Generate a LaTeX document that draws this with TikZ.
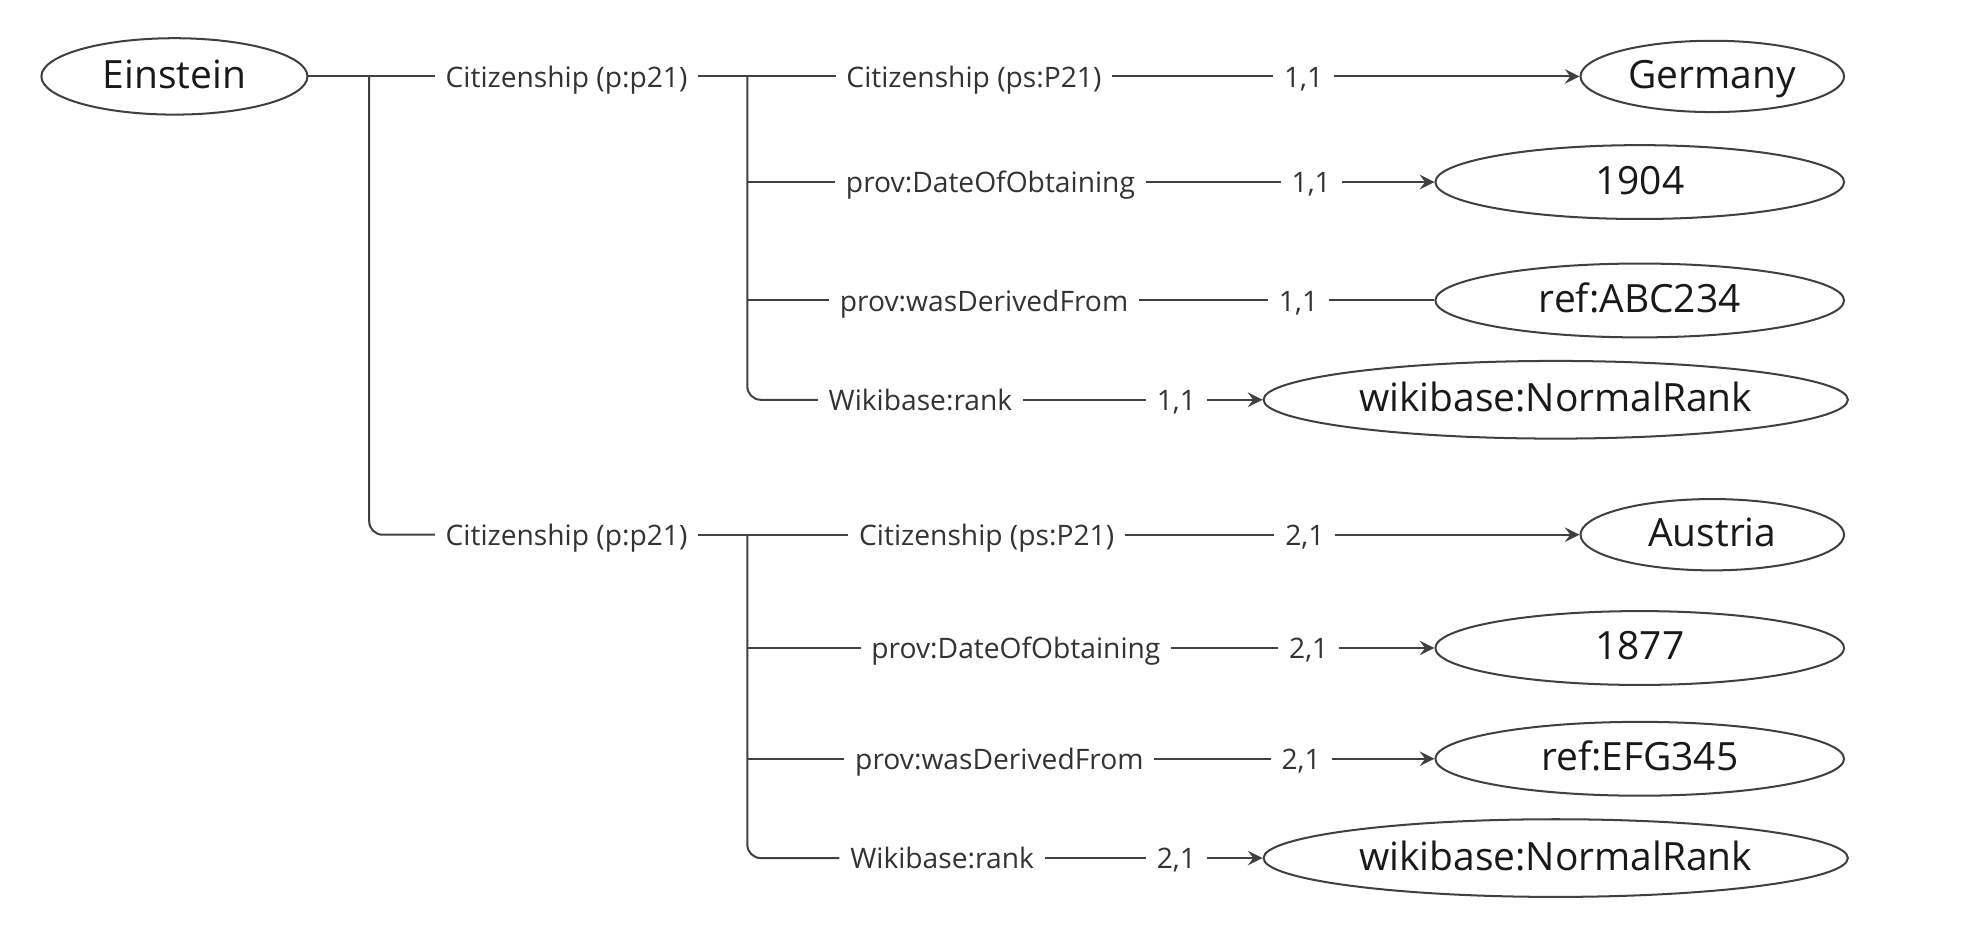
\documentclass[tikz,border=0pt]{standalone}
\usepackage{fontspec}
\setmainfont{Open Sans}
\usetikzlibrary{arrows,positioning,shapes.geometric}

\begin{document}
\begin{tikzpicture}[x=0.1mm,y=-0.1mm,line width=0.45pt,draw=black!75,
  lbl/.style={inner sep=2.2pt,text=black!80,font=\fontsize{6.3}{7}\selectfont,text height=1.25ex,text depth=.35ex},
  val/.style={draw=black!75,ellipse,inner sep=0pt,text=black!90,font=\fontsize{8.7}{10}\selectfont,text height=1.3ex,text depth=.3ex},
  to/.style={-stealth,shorten >=0pt}]
\useasboundingbox (0,0) rectangle (1560,743);
% root and the two statements
\node[val,minimum width=20.9mm,minimum height=6mm] (ein) at (137,60) {Einstein};
\node[lbl] (cpa) at (445,60) {Citizenship (p:p21)};
\node[lbl] (cpb) at (445,420) {Citizenship (p:p21)};
\coordinate (j0) at (290,60);
\coordinate (ja) at (587,60);
\coordinate (jb) at (587,420);
% first statement
\node[lbl] (psa) at (765,60) {Citizenship (ps:P21)};
\node[lbl] (doa) at (778,143) {prov:DateOfObtaining};
\node[lbl] (dfa) at (773,236) {prov:wasDerivedFrom};
\node[lbl] (wra) at (723,314) {Wikibase:rank};
\node[lbl] (na1) at (1024,60) {1,1};
\node[lbl] (na2) at (1030,143) {1,1};
\node[lbl] (na3) at (1020,236) {1,1};
\node[lbl] (na4) at (924,314) {1,1};
\node[val,minimum width=20.7mm,minimum height=5.6mm] (ger) at (1345,60) {Germany};
\node[val,minimum width=32.1mm,minimum height=5.8mm] (y04) at (1288,143) {1904};
\node[val,minimum width=32.1mm,minimum height=5.8mm] (abc) at (1288,236) {ref:ABC234};
\node[val,minimum width=45.9mm,minimum height=6.1mm] (nra) at (1222,314) {wikibase:NormalRank};
% second statement
\node[lbl] (psb) at (775,420) {Citizenship (ps:P21)};
\node[lbl] (dob) at (798,509) {prov:DateOfObtaining};
\node[lbl] (dfb) at (785,596) {prov:wasDerivedFrom};
\node[lbl] (wrb) at (740,674) {Wikibase:rank};
\node[lbl] (nb1) at (1025,420) {2,1};
\node[lbl] (nb2) at (1028,509) {2,1};
\node[lbl] (nb3) at (1022,596) {2,1};
\node[lbl] (nb4) at (924,674) {2,1};
\node[val,minimum width=20.7mm,minimum height=5.6mm] (aut) at (1345,420) {Austria};
\node[val,minimum width=32.1mm,minimum height=5.8mm] (y77) at (1288,509) {1877};
\node[val,minimum width=32.1mm,minimum height=5.8mm] (efg) at (1288,596) {ref:EFG345};
\node[val,minimum width=45.9mm,minimum height=6.1mm] (nrb) at (1222,674) {wikibase:NormalRank};
% tree lines
\draw (ein) -- (cpa);
\draw[rounded corners=3pt] (j0) |- (cpb);
\draw (cpa) -- (psa);
\draw[rounded corners=3pt] (ja) |- (wra);
\draw (ja |- doa) -- (doa);
\draw (ja |- dfa) -- (dfa);
\draw (cpb) -- (psb);
\draw[rounded corners=3pt] (jb) |- (wrb);
\draw (jb |- dob) -- (dob);
\draw (jb |- dfb) -- (dfb);
% values
\draw (psa) -- (na1); \draw[to] (na1) -- (ger);
\draw (doa) -- (na2); \draw[to] (na2) -- (y04);
\draw (dfa) -- (na3); \draw (na3) -- (abc);
\draw (wra) -- (na4); \draw[to] (na4) -- (nra);
\draw (psb) -- (nb1); \draw[to] (nb1) -- (aut);
\draw (dob) -- (nb2); \draw[to] (nb2) -- (y77);
\draw (dfb) -- (nb3); \draw[to] (nb3) -- (efg);
\draw (wrb) -- (nb4); \draw[to] (nb4) -- (nrb);
\end{tikzpicture}
\end{document}
